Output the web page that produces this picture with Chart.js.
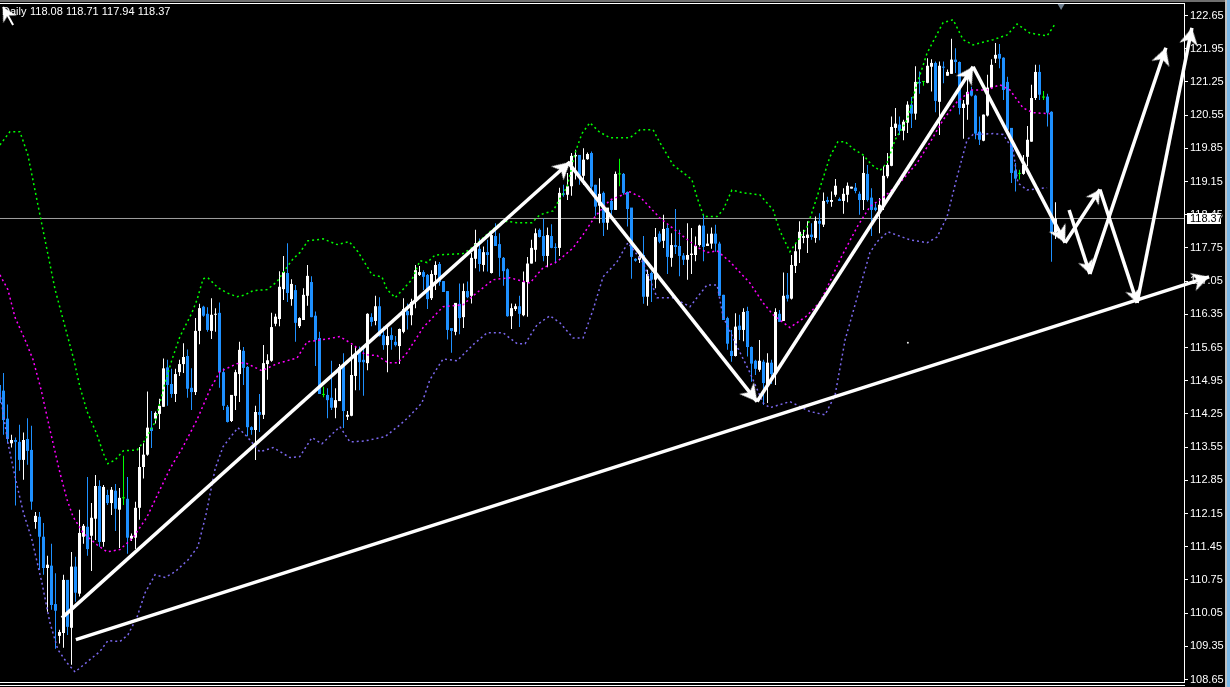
<!DOCTYPE html>
<html>
<head>
<meta charset="utf-8">
<script src="https://cdn.jsdelivr.net/npm/chart.js@4.4.1/dist/chart.umd.min.js"></script>
<style>
  html, body { margin: 0; padding: 0; background: #000; overflow: hidden; }
  canvas { display: block; }
</style>
</head>
<body>
<canvas id="chart" width="1230" height="687"></canvas>
<script>
const tickLabels = [122.65, 121.95, 121.25, 120.55, 119.85, 119.15, 118.45, 117.75, 117.05, 116.35, 115.65,
  114.95, 114.25, 113.55, 112.85, 112.15, 111.45, 110.75, 110.05, 109.35, 108.65];

const headerLabel = "Daily";
const headerValues = "118.08 118.71 117.94 118.37";
const lastClose = 118.37;

const opens = [
  114.86,114.74,114.15,113.63,113.70,113.66,113.28,113.72,113.49,111.97,
  112.08,111.66,111.00,111.05,110.24,109.57,109.63,110.75,109.74,111.03,
  110.46,111.66,111.87,111.68,112.04,112.73,111.55,112.54,112.37,112.63,
  112.23,112.47,112.46,111.62,111.64,112.27,113.13,113.39,113.96,114.15,
  114.25,114.40,115.23,114.88,114.67,115.13,115.30,115.47,114.80,114.71,
  116.00,116.51,116.36,116.00,116.34,116.38,115.13,114.40,114.10,114.63,
  115.09,115.58,115.24,113.97,113.91,114.29,114.23,115.30,115.37,116.15,
  116.25,116.88,117.22,116.67,116.86,116.10,116.23,116.74,117.03,116.32,
  115.85,114.65,114.65,114.59,114.38,114.52,115.26,114.19,114.21,115.05,
  115.58,115.39,115.32,116.29,116.21,116.52,115.91,115.70,115.91,115.77,
  115.68,115.98,116.42,116.33,116.61,117.18,117.24,117.18,116.69,117.18,
  117.41,117.05,116.84,116.06,115.98,116.57,116.29,116.84,116.74,117.52,
  117.73,117.39,117.66,117.22,118.00,117.83,117.54,117.30,116.31,116.46,
  116.52,116.33,117.03,117.42,117.71,118.13,118.00,117.58,118.00,117.77,
  117.75,118.90,118.87,119.05,119.68,119.71,119.27,119.62,119.75,119.08,
  118.64,118.91,118.28,118.74,118.55,119.30,119.31,118.93,118.60,117.52,
  117.50,117.60,116.72,117.22,117.08,118.05,117.90,118.17,117.54,117.81,
  117.79,117.59,117.50,117.60,117.60,117.81,118.22,117.79,117.84,118.05,
  117.84,116.76,116.27,115.58,115.47,116.11,116.02,116.42,115.66,115.37,
  115.18,115.35,114.86,115.33,115.11,116.36,116.21,116.76,116.68,117.37,
  117.72,117.96,117.96,118.03,117.96,118.32,118.24,118.76,118.72,118.87,
  118.78,118.74,118.87,119.00,119.02,118.89,118.76,119.31,118.81,118.60,
  118.48,118.62,119.26,119.48,120.28,120.35,120.22,120.39,120.77,120.58,
  121.25,121.25,121.23,121.57,121.65,120.83,121.57,121.38,121.42,121.72,
  121.67,120.70,120.77,121.07,120.96,120.20,120.01,120.54,121.13,121.74,
  121.84,121.76,121.25,120.28,119.38,119.31,119.31,119.67,119.99,120.91,
  121.46,120.92,120.94,120.62,118.08
];
const closes = [
  114.48,114.12,113.72,113.70,113.66,113.28,113.70,113.47,112.40,112.10,
  111.66,111.00,111.07,110.22,110.10,109.65,110.75,109.76,111.03,110.48,
  111.74,111.89,111.40,112.06,112.73,111.55,112.71,112.37,112.65,112.25,
  112.48,112.47,111.64,111.68,112.27,113.13,113.39,113.96,113.89,114.27,
  114.42,115.21,114.86,114.67,115.09,115.30,115.45,114.78,114.71,116.00,
  116.48,116.32,116.02,116.34,116.36,115.13,114.42,114.08,114.65,115.13,
  115.60,115.22,113.97,113.91,114.29,114.23,115.32,115.38,116.08,116.30,
  116.93,117.24,116.80,116.99,116.17,116.27,116.76,117.16,116.29,115.81,
  114.67,114.65,114.54,114.38,114.54,115.24,114.31,114.23,115.07,115.51,
  115.34,115.34,116.36,116.19,116.52,115.89,115.70,115.89,115.81,115.70,
  116.04,116.46,116.33,116.61,117.28,117.24,117.14,116.67,117.20,117.39,
  117.03,116.82,116.02,116.00,116.59,116.27,116.84,116.71,117.54,117.85,
  117.41,117.66,117.60,118.02,117.79,117.54,117.26,116.31,116.48,116.52,
  116.36,117.03,117.42,117.75,118.06,117.98,117.58,118.02,117.75,117.75,
  118.91,118.87,119.05,119.69,119.71,119.29,119.61,119.73,119.04,118.62,
  118.89,118.28,118.60,118.55,119.31,119.30,118.91,118.57,117.56,117.48,
  117.57,116.72,117.20,117.08,117.98,117.88,118.15,117.56,117.81,117.77,
  117.58,117.50,117.60,117.63,117.79,118.22,117.77,117.84,118.05,117.84,
  116.74,116.23,115.73,115.47,116.09,116.02,116.40,115.66,115.31,115.20,
  115.37,114.90,115.33,115.09,116.40,116.19,116.74,116.68,117.39,117.68,
  118.09,118.00,118.03,117.98,118.32,118.26,118.74,118.72,118.76,119.06,
  118.74,118.89,119.06,119.04,118.95,118.76,119.33,118.76,118.55,118.55,
  118.66,119.27,119.50,120.30,120.37,120.22,120.41,120.77,120.58,121.25,
  121.22,121.25,121.59,121.65,120.85,121.59,121.55,121.46,121.72,121.67,
  120.70,120.79,121.04,120.96,120.16,120.03,120.56,121.13,121.61,121.82,
  121.74,121.08,120.24,119.33,119.21,119.31,119.50,120.03,120.91,121.46,
  120.98,120.92,120.60,118.08,118.37
];
const highs = [
  115.08,115.11,114.45,113.81,113.75,114.02,113.86,114.16,114.00,112.18,
  112.18,111.95,111.26,111.51,110.89,109.70,110.86,110.75,111.34,111.24,
  112.23,111.93,112.92,112.37,112.96,112.85,112.75,112.65,112.71,112.77,
  112.69,113.37,112.92,111.73,112.40,113.55,113.63,114.72,114.31,114.30,
  114.57,115.42,115.39,115.20,115.20,115.39,115.74,115.61,115.21,116.27,
  116.57,116.53,116.50,116.69,116.48,116.60,115.21,114.44,114.65,115.18,
  115.77,115.66,115.26,113.99,114.42,114.67,115.70,115.51,116.38,116.36,
  117.26,117.58,117.85,117.09,116.97,116.29,116.90,117.39,117.15,116.41,
  115.98,114.82,114.79,115.37,114.79,115.30,115.53,114.31,115.70,115.67,
  115.67,115.70,116.37,116.37,116.74,116.71,116.09,116.09,116.07,115.89,
  116.05,116.69,116.58,116.68,117.39,117.37,117.28,117.20,117.28,117.47,
  117.45,117.05,116.84,116.06,116.59,117.00,117.00,117.04,117.64,118.13,
  117.95,117.78,117.92,118.09,118.27,118.06,117.56,117.32,116.58,116.57,
  116.74,117.25,117.56,117.92,118.16,118.16,118.37,118.18,118.25,117.85,
  119.02,119.08,119.33,119.75,119.82,119.71,119.85,119.76,119.78,119.08,
  119.22,118.94,118.59,118.76,119.36,119.63,119.33,118.94,118.59,117.53,
  117.67,118.00,117.29,117.25,118.17,118.10,118.45,118.25,118.06,118.57,
  118.13,117.64,118.27,118.17,117.99,118.24,118.45,118.05,118.18,118.24,
  117.88,116.76,116.30,116.02,116.37,116.34,116.48,116.51,115.67,115.39,
  115.81,115.39,115.53,115.39,116.48,116.44,117.23,117.22,117.60,117.85,
  118.31,118.13,118.31,118.27,118.41,118.48,118.92,118.83,118.94,119.20,
  118.81,119.01,119.13,119.04,119.12,118.94,119.68,119.50,119.01,118.69,
  118.80,119.47,119.75,120.52,120.70,120.52,120.45,120.84,120.93,121.58,
  121.47,121.26,121.75,121.73,121.68,121.68,121.68,121.51,122.16,121.96,
  121.68,120.87,121.40,121.15,120.98,120.52,120.56,121.40,121.73,122.07,
  122.05,121.77,121.36,120.28,119.54,119.40,119.71,120.32,121.19,121.61,
  121.61,121.06,121.00,120.63,118.71
];
const lows = [
  114.34,113.81,113.63,113.54,112.32,113.05,112.86,113.18,112.23,111.83,
  110.96,110.86,110.08,110.12,109.30,109.41,109.32,109.59,108.96,110.29,
  110.40,111.51,111.26,110.94,111.59,111.45,111.45,112.33,112.12,111.78,
  111.42,112.33,111.30,111.57,111.40,112.02,112.89,113.37,113.53,114.05,
  113.93,114.40,114.42,114.59,114.50,115.05,115.11,114.59,114.33,114.65,
  115.72,116.30,115.98,115.83,115.98,114.80,114.33,114.07,114.08,114.33,
  114.50,114.86,113.78,113.81,113.28,113.87,114.14,114.97,115.35,116.10,
  116.10,116.65,116.61,116.53,115.77,116.06,116.23,116.53,116.29,115.26,
  114.67,114.60,114.16,114.33,114.16,114.52,113.95,114.12,114.20,114.75,
  114.75,114.63,115.17,116.10,116.12,115.88,115.60,115.13,115.60,115.67,
  115.30,115.95,116.03,116.12,116.48,117.16,116.86,116.46,116.65,116.86,
  116.95,116.82,115.82,115.54,115.91,115.93,116.06,116.69,116.58,117.32,
  117.25,117.25,117.25,117.21,117.79,117.14,116.95,116.30,116.04,116.42,
  116.08,116.31,116.30,117.42,117.46,117.97,117.47,117.34,117.74,117.42,
  117.58,118.83,118.76,118.85,119.19,119.08,119.08,119.61,118.90,118.43,
  118.27,118.00,118.13,118.45,118.55,119.05,118.87,118.20,117.10,117.46,
  117.43,116.57,116.53,116.61,116.90,117.85,117.75,117.20,117.35,117.62,
  117.15,117.39,117.08,117.20,117.47,117.78,117.47,117.79,117.73,117.67,
  116.74,116.23,115.60,115.35,115.46,115.81,115.78,115.46,114.93,115.07,
  115.14,114.44,114.48,114.88,114.86,116.20,116.21,116.62,116.66,117.22,
  117.43,117.85,117.64,117.92,117.86,117.91,118.19,118.68,118.62,118.83,
  118.74,118.47,118.71,119.00,118.90,118.45,118.55,118.73,118.00,118.52,
  118.06,118.55,119.22,119.47,120.11,120.13,120.02,120.17,120.28,120.45,
  121.00,121.17,121.22,121.05,120.61,120.13,121.22,121.38,121.42,121.44,
  120.56,120.05,120.45,120.94,120.04,119.92,120.00,120.52,121.12,121.65,
  121.54,120.87,120.24,119.12,118.94,119.19,119.29,119.47,119.99,120.87,
  120.87,120.87,120.31,117.46,117.94
];

// bollinger bands, [bar index, price]
const bandUpper = [[0.1,119.92],[2.6,120.20],[5.1,120.20],[7.1,119.71],[10.1,118.45],[13.9,116.87],[18.6,115.39],
  [20.1,114.82],[21.9,114.30],[24.4,113.81],[25.9,113.43],[27.1,113.20],[28.9,113.28],[30.9,113.47],[34.4,113.49],
  [36.4,113.70],[38.9,114.08],[40.1,114.48],[41.4,114.91],[43.1,115.39],[45.1,115.88],[48.1,116.38],[49.4,116.66],
  [50.9,117.10],[52.1,117.12],[54.6,116.91],[56.9,116.80],[59.4,116.72],[61.4,116.76],[63.4,116.85],[66.9,116.87],
  [69.4,117.04],[71.4,117.29],[73.4,117.52],[75.1,117.65],[77.1,117.90],[80.9,117.94],[84.4,117.82],[87.4,117.88],
  [89.6,117.67],[92.1,117.33],[93.1,117.18],[95.6,117.14],[96.9,116.87],[98.9,116.70],[100.6,116.85],[103.1,117.08],
  [105.1,117.48],[106.9,117.44],[108.9,117.60],[115.9,117.63],[118.4,117.77],[122.6,118.09],[125.9,118.32],[129.4,118.28],
  [133.1,118.28],[135.1,118.45],[138.4,118.53],[139.9,118.76],[141.9,119.04],[143.9,119.75],[145.6,120.16],[147.6,120.39],
  [149.9,120.20],[152.6,120.07],[157.6,120.07],[160.1,120.24],[163.4,120.24],[165.1,119.97],[168.4,119.50],[173.1,119.19],
  [174.4,118.81],[176.1,118.41],[179.4,118.41],[180.9,118.55],[183.1,118.97],[185.9,118.91],[190.1,118.87],[193.4,118.55],
  [195.1,118.11],[197.6,117.67],[201.9,118.19],[204.4,118.83],[207.6,119.67],[209.6,119.99],[211.4,119.99],[213.4,119.84],
  [215.9,119.71],[218.1,119.50],[220.1,119.38],[221.9,119.54],[223.9,120.03],[226.9,120.45],[228.9,121.08],[231.9,121.86],
  [235.9,122.50],[238.4,122.56],[240.9,122.14],[243.4,122.03],[248.4,122.14],[251.9,122.24],[254.4,122.47],[257.6,122.28],
  [261.9,122.22],[263.9,122.47]];
const bandMiddle = [[0.1,117.18],[2.1,116.87],[3.9,116.28],[6.4,115.81],[8.4,115.39],[10.4,114.76],[12.6,113.92],[15.1,113.01],
  [16.9,112.44],[18.4,112.08],[20.9,111.74],[24.4,111.49],[26.9,111.34],[30.1,111.39],[33.4,111.64],[36.9,112.08],[40.1,112.65],
  [42.6,113.09],[45.9,113.56],[49.4,114.13],[52.6,114.76],[55.1,115.14],[59.4,115.31],[61.4,115.33],[65.6,115.16],[69.4,115.31],
  [74.4,115.43],[76.9,115.77],[81.9,115.83],[85.1,115.88],[88.4,115.71],[91.4,115.50],[94.4,115.48],[97.1,115.33],[99.6,115.33],
  [101.9,115.54],[105.9,116.07],[110.9,116.51],[115.9,116.55],[118.1,116.72],[123.4,117.08],[127.6,117.12],[132.6,117.01],
  [135.9,117.33],[139.4,117.46],[143.4,117.75],[145.9,118.03],[148.9,118.41],[152.6,118.76],[157.6,118.93],[160.1,118.83],
  [165.1,118.38],[171.4,117.96],[174.4,117.77],[176.9,117.65],[179.4,117.69],[182.6,117.46],[187.6,117.01],[190.9,116.59],
  [193.4,116.34],[197.6,116.07],[201.9,116.32],[205.1,116.61],[206.9,116.91],[210.1,117.50],[214.4,118.19],[217.6,118.62],
  [220.9,118.81],[225.1,119.12],[229.4,119.54],[232.6,119.97],[235.9,120.45],[239.4,120.83],[243.1,121.08],[246.9,121.08],
  [250.1,121.19],[252.6,121.08],[255.9,120.70],[258.4,120.60],[262.6,120.58]];
const bandLower = [[0.1,114.70],[2.1,113.64],[3.9,112.92],[5.9,112.19],[8.1,111.60],[10.6,110.69],[12.6,109.85],[14.6,109.28],
  [16.9,109.00],[18.9,108.81],[21.9,109.02],[25.1,109.24],[27.1,109.47],[30.1,109.45],[32.1,109.59],[34.4,109.97],[36.4,110.48],
  [38.9,110.86],[41.4,110.80],[43.9,110.92],[47.1,111.17],[49.6,111.45],[51.6,112.12],[53.9,113.09],[55.9,113.56],[59.6,113.96],
  [61.9,113.77],[65.1,113.45],[68.4,113.54],[72.6,113.33],[75.1,113.35],[78.1,113.75],[80.6,113.62],[85.1,113.98],[87.6,113.66],
  [91.4,113.68],[96.4,113.77],[100.1,114.02],[102.1,114.17],[105.6,114.48],[107.6,114.97],[110.9,115.41],[114.4,115.37],
  [118.4,115.71],[121.9,115.96],[125.9,115.96],[129.4,115.73],[131.4,115.73],[134.4,116.13],[137.6,116.32],[140.1,116.17],
  [143.4,115.85],[145.9,115.85],[148.4,116.45],[150.9,117.14],[154.4,117.46],[157.1,117.86],[160.9,117.44],[164.4,116.70],
  [168.4,116.70],[172.6,116.51],[176.9,116.97],[179.4,116.97],[180.9,116.30],[184.4,115.67],[187.6,115.12],[190.9,114.48],
  [192.6,114.38],[197.6,114.51],[202.6,114.30],[206.4,114.23],[208.9,114.65],[211.4,115.81],[215.1,116.91],[217.6,117.65],
  [219.4,117.88],[222.1,118.09],[227.6,117.92],[231.9,117.86],[234.4,117.98],[236.9,118.41],[239.4,119.25],[241.9,120.03],
  [243.4,120.14],[248.4,120.16],[250.9,120.14],[253.4,119.82],[254.6,119.12],[256.9,118.97],[261.9,119.02]];

// hand drawn arrows on the chart, [bar index, price] from tail to tip
const trendArrow = [[19.1,109.49],[302.4,117.14]];
const legUpOne = [[15.6,109.95],[142.6,119.56]];
const legDownOne = [[142.1,119.56],[189.4,114.51]];
const legUpTwo = [[189.4,114.51],[243.4,121.57]];
const legDownTwo = [[243.4,121.57],[266.4,117.86]];
const bounceA = [[266.4,117.86],[275.1,118.98]];
const dropA = [[275.1,118.98],[284.4,116.59]];
const riseA = [[284.4,116.59],[298.1,122.39]];
const dropB = [[267.4,118.55],[272.6,117.20]];
const riseB = [[272.6,117.20],[291.6,121.97]];
const cursorArrow = [[3.4,122.45],[0.9,122.83]];
const strayDot = [[227.1,115.75]];
const shiftMarker = [[265.4,122.85]];

const upColor = "#ffffff";
const downColor = "#1e90ff";
const dojiColor = "#00ff00";
const arrowColor = "#ffffff";
const fontName = "'Liberation Sans Narrow', 'Liberation Sans', sans-serif";

// the arrow heads reach past the plot area, keep them from shrinking it
Chart.LineController.prototype.getMaxOverflow = () => 0;
Chart.ScatterController.prototype.getMaxOverflow = () => 0;

function candleColor(i) {
  if (closes[i] === opens[i]) return dojiColor;
  return closes[i] > opens[i] ? upColor : downColor;
}

function toPoints(pairs) {
  return pairs.map(([x, y]) => ({ x, y }));
}

// arrow head, tip in the middle of the canvas and pointing up
function makeHead(size) {
  const c = document.createElement("canvas");
  c.width = 40;
  c.height = 40;
  const g = c.getContext("2d");
  g.translate(20, 20);
  g.fillStyle = arrowColor;
  g.beginPath();
  g.moveTo(0, 0);
  g.lineTo(size * 0.55, size);
  g.lineTo(0, size * 0.7);
  g.lineTo(-size * 0.55, size);
  g.closePath();
  g.fill();
  return c;
}

const bigHead = makeHead(17);
const smallHead = makeHead(14);

function headRotation(ctx) {
  const pts = ctx.dataset.data;
  const xs = ctx.chart.scales.x;
  const ys = ctx.chart.scales.y;
  const dx = xs.getPixelForValue(pts[1].x) - xs.getPixelForValue(pts[0].x);
  const dy = ys.getPixelForValue(pts[1].y) - ys.getPixelForValue(pts[0].y);
  return Math.atan2(dx, -dy) * 180 / Math.PI;
}

function arrowDataset(pairs, width, head) {
  return {
    type: "line",
    data: toPoints(pairs),
    borderColor: arrowColor,
    borderWidth: width,
    clip: false,
    order: 1,
    pointStyle: head,
    pointRadius: (ctx) => (ctx.dataIndex === 1 ? 30 : 0),
    pointHoverRadius: 0,
    pointBorderWidth: 0,
    pointRotation: headRotation,
  };
}

function bandDataset(pairs, color) {
  return {
    type: "line",
    data: toPoints(pairs),
    borderColor: color,
    borderWidth: 1.5,
    borderDash: [2, 3],
    pointRadius: 0,
    order: 2,
  };
}

const frame = {
  id: "frame",
  beforeDraw(chart) {
    const g = chart.ctx;
    g.save();
    g.fillStyle = "#000000";
    g.fillRect(0, 0, 1230, 687);
    g.fillStyle = "#6f6f6f";
    g.fillRect(0, 0, 1230, 2);
    g.fillStyle = "#c0c0c0";
    g.fillRect(1225, 0, 2, 687);
    g.fillStyle = "#7ab8e8";
    g.fillRect(1227, 0, 3, 687);
    g.fillStyle = "#ffffff";
    g.fillRect(0, 3, 1185, 1);
    g.fillRect(0, 682, 1185, 1);
    g.fillRect(0, 685, 1185, 1);
    g.restore();
  },
  beforeDatasetsDraw(chart) {
    const g = chart.ctx;
    g.save();
    g.fillStyle = "#ffffff";
    g.font = "11px " + fontName;
    g.textBaseline = "middle";
    g.fillText(headerLabel, 2, 12);
    g.fillText(headerValues, 30, 12);
    g.restore();
  },
  afterDraw(chart) {
    const g = chart.ctx;
    const y = chart.scales.y.getPixelForValue(lastClose);
    g.save();
    g.fillStyle = "#ffffff";
    g.fillRect(1187, Math.round(y) - 5, 34, 11);
    g.fillStyle = "#000000";
    g.font = "11px " + fontName;
    g.textBaseline = "middle";
    g.fillText(lastClose.toFixed(2), 1190, y + 0.5);
    g.restore();
  },
};

new Chart(document.getElementById("chart"), {
  type: "bar",
  plugins: [frame],
  data: {
    datasets: [
      {
        type: "line",
        data: [{ x: 0.125, y: lastClose }, { x: 296.125, y: lastClose }],
        borderColor: "#a0a0a0",
        borderWidth: 1,
        pointRadius: 0,
        order: 5,
      },
      {
        data: highs.map((h, i) => ({ x: i, y: [lows[i], h] })),
        backgroundColor: highs.map((_, i) => candleColor(i)),
        barThickness: 1,
        grouped: false,
        inflateAmount: 0,
        order: 4,
      },
      {
        data: opens.map((o, i) => ({ x: i, y: [o, closes[i]] })),
        backgroundColor: opens.map((_, i) => candleColor(i)),
        barThickness: 3,
        minBarLength: 1,
        grouped: false,
        inflateAmount: 0,
        order: 3,
      },
      bandDataset(bandUpper, "#00ff00"),
      bandDataset(bandMiddle, "#ff00ff"),
      bandDataset(bandLower, "#7b68ee"),
      arrowDataset(trendArrow, 3.5, bigHead),
      arrowDataset(legUpOne, 3.5, bigHead),
      arrowDataset(legDownOne, 3.5, bigHead),
      arrowDataset(legUpTwo, 3.5, bigHead),
      arrowDataset(legDownTwo, 3.5, bigHead),
      arrowDataset(bounceA, 3.5, smallHead),
      arrowDataset(dropA, 3.5, smallHead),
      arrowDataset(riseA, 3.5, bigHead),
      arrowDataset(dropB, 3.5, smallHead),
      arrowDataset(riseB, 3.5, bigHead),
      arrowDataset(cursorArrow, 2, smallHead),
      {
        type: "scatter",
        data: toPoints(strayDot),
        backgroundColor: "#ffffff",
        pointRadius: 1,
        order: 1,
      },
      {
        type: "scatter",
        data: toPoints(shiftMarker),
        backgroundColor: "#708090",
        pointStyle: "triangle",
        pointRotation: 180,
        pointRadius: 4,
        pointBorderWidth: 0,
        order: 1,
      },
    ],
  },
  options: {
    responsive: false,
    animation: false,
    devicePixelRatio: 1,
    events: [],
    layout: { padding: { top: 3, bottom: 5, right: 5, left: 0 } },
    plugins: { legend: { display: false }, tooltip: { enabled: false }, title: { display: false } },
    scales: {
      x: { type: "linear", display: false, offset: false, min: 0.125, max: 296.125 },
      y: {
        position: "right",
        min: 108.597,
        max: 122.9135,
        afterFit(scale) {
          scale.width = 41;
          scale.paddingTop = 0;
          scale.paddingBottom = 0;
        },
        afterBuildTicks(scale) {
          scale.ticks = tickLabels.map((value) => ({ value }));
        },
        border: { color: "#ffffff", width: 1 },
        grid: { drawOnChartArea: false, tickColor: "#ffffff", tickLength: 4, tickWidth: 1 },
        ticks: {
          color: "#ffffff",
          padding: 2,
          autoSkip: false,
          font: { family: fontName, size: 11 },
          callback: (v) => v.toFixed(2),
        },
      },
    },
  },
});
</script>
</body>
</html>
